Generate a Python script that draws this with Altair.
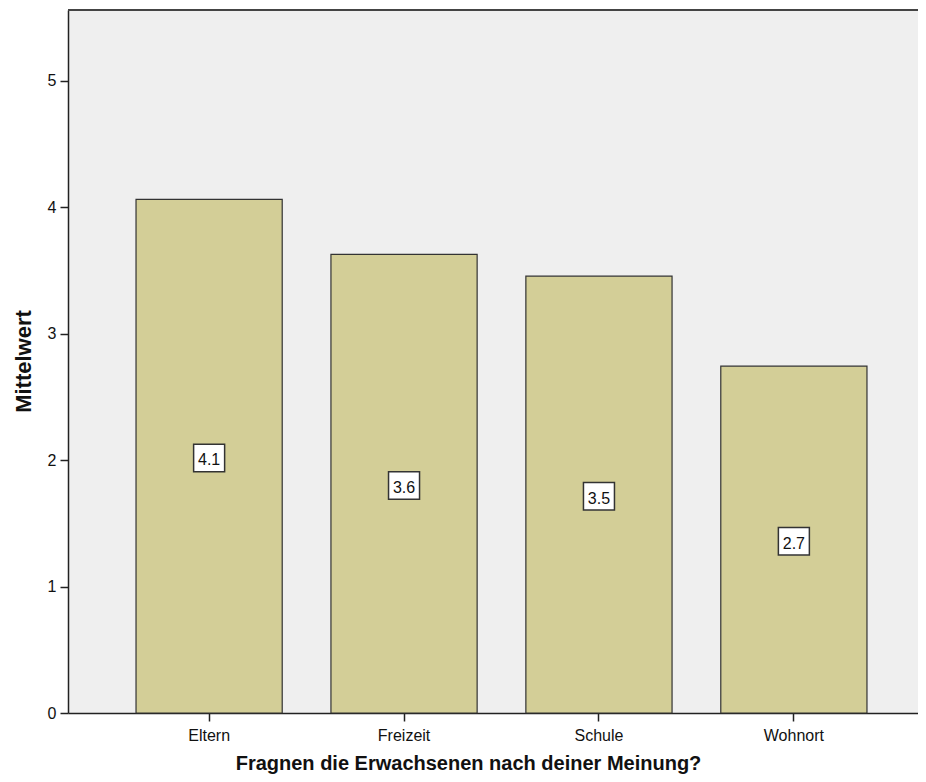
import altair as alt
import pandas as pd

categories = ["Eltern", "Freizeit", "Schule", "Wohnort"]
means = [4.063, 3.628, 3.455, 2.743]
y_ticks = [0, 1, 2, 3, 4, 5]
y_max = 5.56
x_title = "Fragnen die Erwachsenen nach deiner Meinung?"
y_title = "Mittelwert"

df = pd.DataFrame({"cat": categories, "mean": means})

FONT = "Liberation Sans"
W, H = 850, 703

x_enc = alt.X(
    "cat:N",
    sort=categories,
    scale=alt.Scale(range=[0, 867], paddingInner=0.25, paddingOuter=0.349),
    axis=alt.Axis(
        title=x_title,
        labelAngle=0,
        labelFont=FONT,
        labelFontSize=16,
        labelColor="#111111",
        labelBaseline="alphabetic",
        labelPadding=19,
        tickSize=8,
        tickColor="#222222",
        tickWidth=1.5,
        domainColor="#222222",
        domainWidth=1.5,
        titleFont=FONT,
        titleFontSize=20,
        titleFontWeight="bold",
        titleColor="#111111",
        titleBaseline="alphabetic",
        titleX=400,
        titleY=56,
    ),
)

y_axis = alt.Axis(
    title=y_title,
    values=y_ticks,
    format="d",
    grid=False,
    labelFont=FONT,
    labelFontSize=16,
    labelColor="#111111",
    labelPadding=4,
    tickSize=8,
    tickColor="#222222",
    tickWidth=1.5,
    domainColor="#222222",
    domainWidth=1.5,
    titleFont=FONT,
    titleFontSize=22,
    titleFontWeight="bold",
    titleColor="#111111",
    titleBaseline="middle",
    titleX=-45,
    titleY=351,
)
y_scale = alt.Scale(domain=[0, y_max], nice=False, zero=True)

base = alt.Chart(df)

bars = base.mark_bar(fill="#D3CE97", stroke="#333333", strokeWidth=1.2).encode(
    x=x_enc,
    y=alt.Y("mean:Q", scale=y_scale, axis=y_axis),
)

half_box = 12 * y_max / H

boxes = base.transform_calculate(
    lo=f"datum.mean / 2 - {half_box}",
    hi=f"datum.mean / 2 + {half_box}",
).mark_rect(width=31, fill="white", stroke="#333333", strokeWidth=1.5, yOffset=3.5).encode(
    x=alt.X("cat:N", sort=categories),
    y=alt.Y("lo:Q", scale=y_scale),
    y2="hi:Q",
)

labels = base.transform_calculate(
    mid="datum.mean / 2",
).mark_text(font=FONT, fontSize=16, color="#111111", baseline="middle", dy=4).encode(
    x=alt.X("cat:N", sort=categories),
    y=alt.Y("mid:Q", scale=y_scale),
    text=alt.Text("mean:Q", format=".1f"),
)

top_border = base.mark_rule(color="#444444", strokeWidth=2).encode(
    x=alt.value(0), x2=alt.value(W), y=alt.value(0)
)

chart = (
    alt.layer(bars, boxes, labels, top_border)
    .properties(
        width=W,
        height=H,
        autosize=alt.AutoSizeParams(type="none"),
        padding={"left": 60, "top": 2, "right": 0, "bottom": 61},
        background="white",
    )
    .configure_view(fill="#EFEFEF", stroke="transparent")
)

chart.save("out.html", embed_options={"renderer": "svg", "actions": False})
